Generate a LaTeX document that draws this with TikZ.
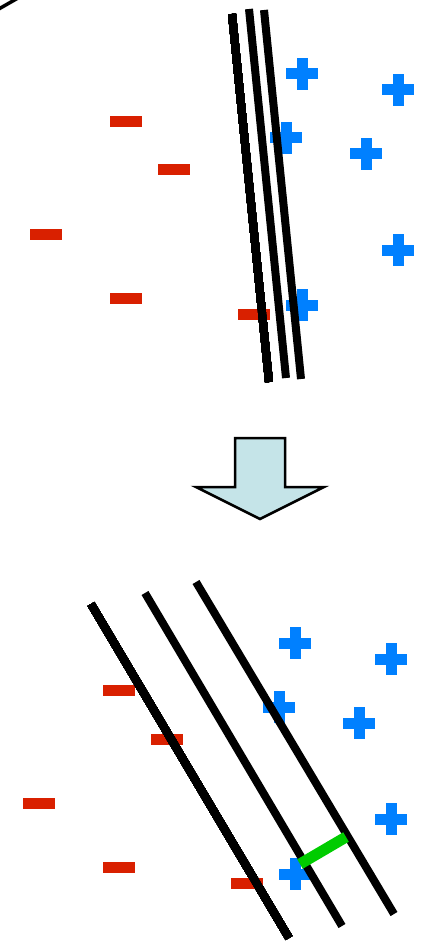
\documentclass[tikz,border=0pt]{standalone}
\usetikzlibrary{calc}
\definecolor{chargered}{HTML}{D92000}
\definecolor{chargeblue}{HTML}{0080FF}
\definecolor{bondgreen}{HTML}{00CC00}
\definecolor{arrowfill}{HTML}{C5E4E8}
\tikzset{
  membrane/.style={line width=8pt, black},
  minusbar/.style={fill=chargered, draw=none},
  plusbar/.style={fill=chargeblue, draw=none}
}
\newcommand{\minuscharge}[1]{\fill[minusbar] ($#1+(-16,-5.5)$) rectangle ($#1+(16,5.5)$);}
\newcommand{\pluscharge}[1]{%
  \fill[plusbar] ($#1+(-16,-5.5)$) rectangle ($#1+(16,5.5)$);
  \fill[plusbar] ($#1+(-5.5,-16)$) rectangle ($#1+(5.5,16)$);}
\begin{document}
\begin{tikzpicture}[x=1pt, y=-1pt, line join=round]
  \useasboundingbox (0,0) rectangle (424,941);
  % bout de courbe en haut a gauche
  \begin{scope}
    \clip (0,0) rectangle (424,941);
    \draw[line width=3.5pt] (-10,14) -- (18,-2);
  \end{scope}
  % avant : charges
  \foreach \px/\py in {126/122, 174/170, 46/234, 126/298, 254/314}
    \minuscharge{(\px,\py)}
  \foreach \px/\py in {302/74, 398/90, 286/138, 366/154, 398/250, 302/305}
    \pluscharge{(\px,\py)}
  % avant : trois lignes serrees
  \draw[membrane] (232,14) -- (269,382);
  \draw[membrane] (249,9) -- (286,378);
  \draw[membrane] (264,10) -- (301,379);
  % fleche
  \draw[line width=2.5pt, fill=arrowfill, line join=miter]
    (235,438) -- (285,438) -- (285,487) -- (324,487) -- (260,519)
    -- (196,487) -- (235,487) -- cycle;
  % apres : charges
  \foreach \px/\py in {119/690, 167/739, 39/803, 119/867, 247/883}
    \minuscharge{(\px,\py)}
  \foreach \px/\py in {295/643, 391/659, 279/707, 359/723, 391/819, 295/874}
    \pluscharge{(\px,\py)}
  % apres : lignes ecartees
  \draw[membrane] (91,604) -- (289,938);
  \draw[membrane] (145,593) -- (342,926);
  \draw[membrane] (196,582) -- (394,914);
  % liaison verte
  \draw[line width=11pt, bondgreen] (300,864) -- (346,837);
\end{tikzpicture}
\end{document}
